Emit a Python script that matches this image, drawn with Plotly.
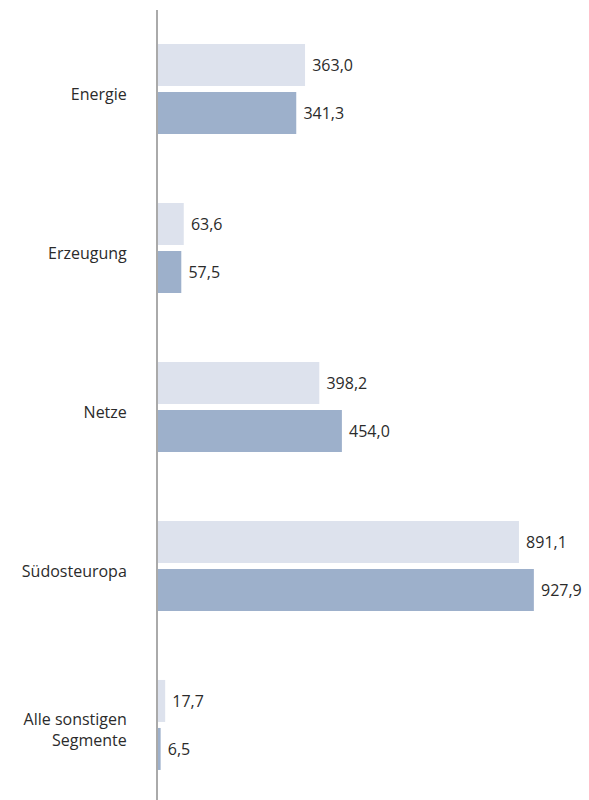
import plotly.graph_objects as go

categories = ["Energie", "Erzeugung", "Netze", "Südosteuropa", "Alle sonstigen<br>Segmente"]
series_prev = [363.0, 63.6, 398.2, 891.1, 17.7]
series_curr = [341.3, 57.5, 454.0, 927.9, 6.5]

font_family = "Open Sans, Noto Sans, sans-serif"
txt_color = "#2b2b2b"

fig = go.Figure()
fig.add_trace(go.Bar(
    y=categories, x=series_prev, orientation="h",
    marker=dict(color="#dde2ed", line=dict(width=0)),
    texttemplate=" %{x:.1f}", textposition="outside", cliponaxis=False,
    textfont=dict(size=16, color=txt_color, family=font_family),
    name="prev",
))
fig.add_trace(go.Bar(
    y=categories, x=series_curr, orientation="h",
    marker=dict(color="#9db0cb", line=dict(width=0)),
    texttemplate=" %{x:.1f}", textposition="outside", cliponaxis=False,
    textfont=dict(size=16, color=txt_color, family=font_family),
    name="curr",
))

fig.update_layout(
    width=589, height=800,
    margin=dict(l=158, r=0, t=10, b=0),
    paper_bgcolor="white", plot_bgcolor="white",
    barmode="group", bargap=0.396, bargroupgap=0.125,
    showlegend=False,
    separators=",.",
    font=dict(family=font_family, color=txt_color, size=16),
    xaxis=dict(range=[0, 1064], visible=False, showgrid=False, zeroline=False),
    yaxis=dict(
        range=[4.472, -0.497], showgrid=False, zeroline=False,
        showline=True, linecolor="#aaaaaa", linewidth=2,
        ticks="", ticklabelstandoff=26, ticklabelshift=-5,
        tickfont=dict(size=16, color=txt_color, family=font_family),
    ),
)

fig.write_html("out.html")
